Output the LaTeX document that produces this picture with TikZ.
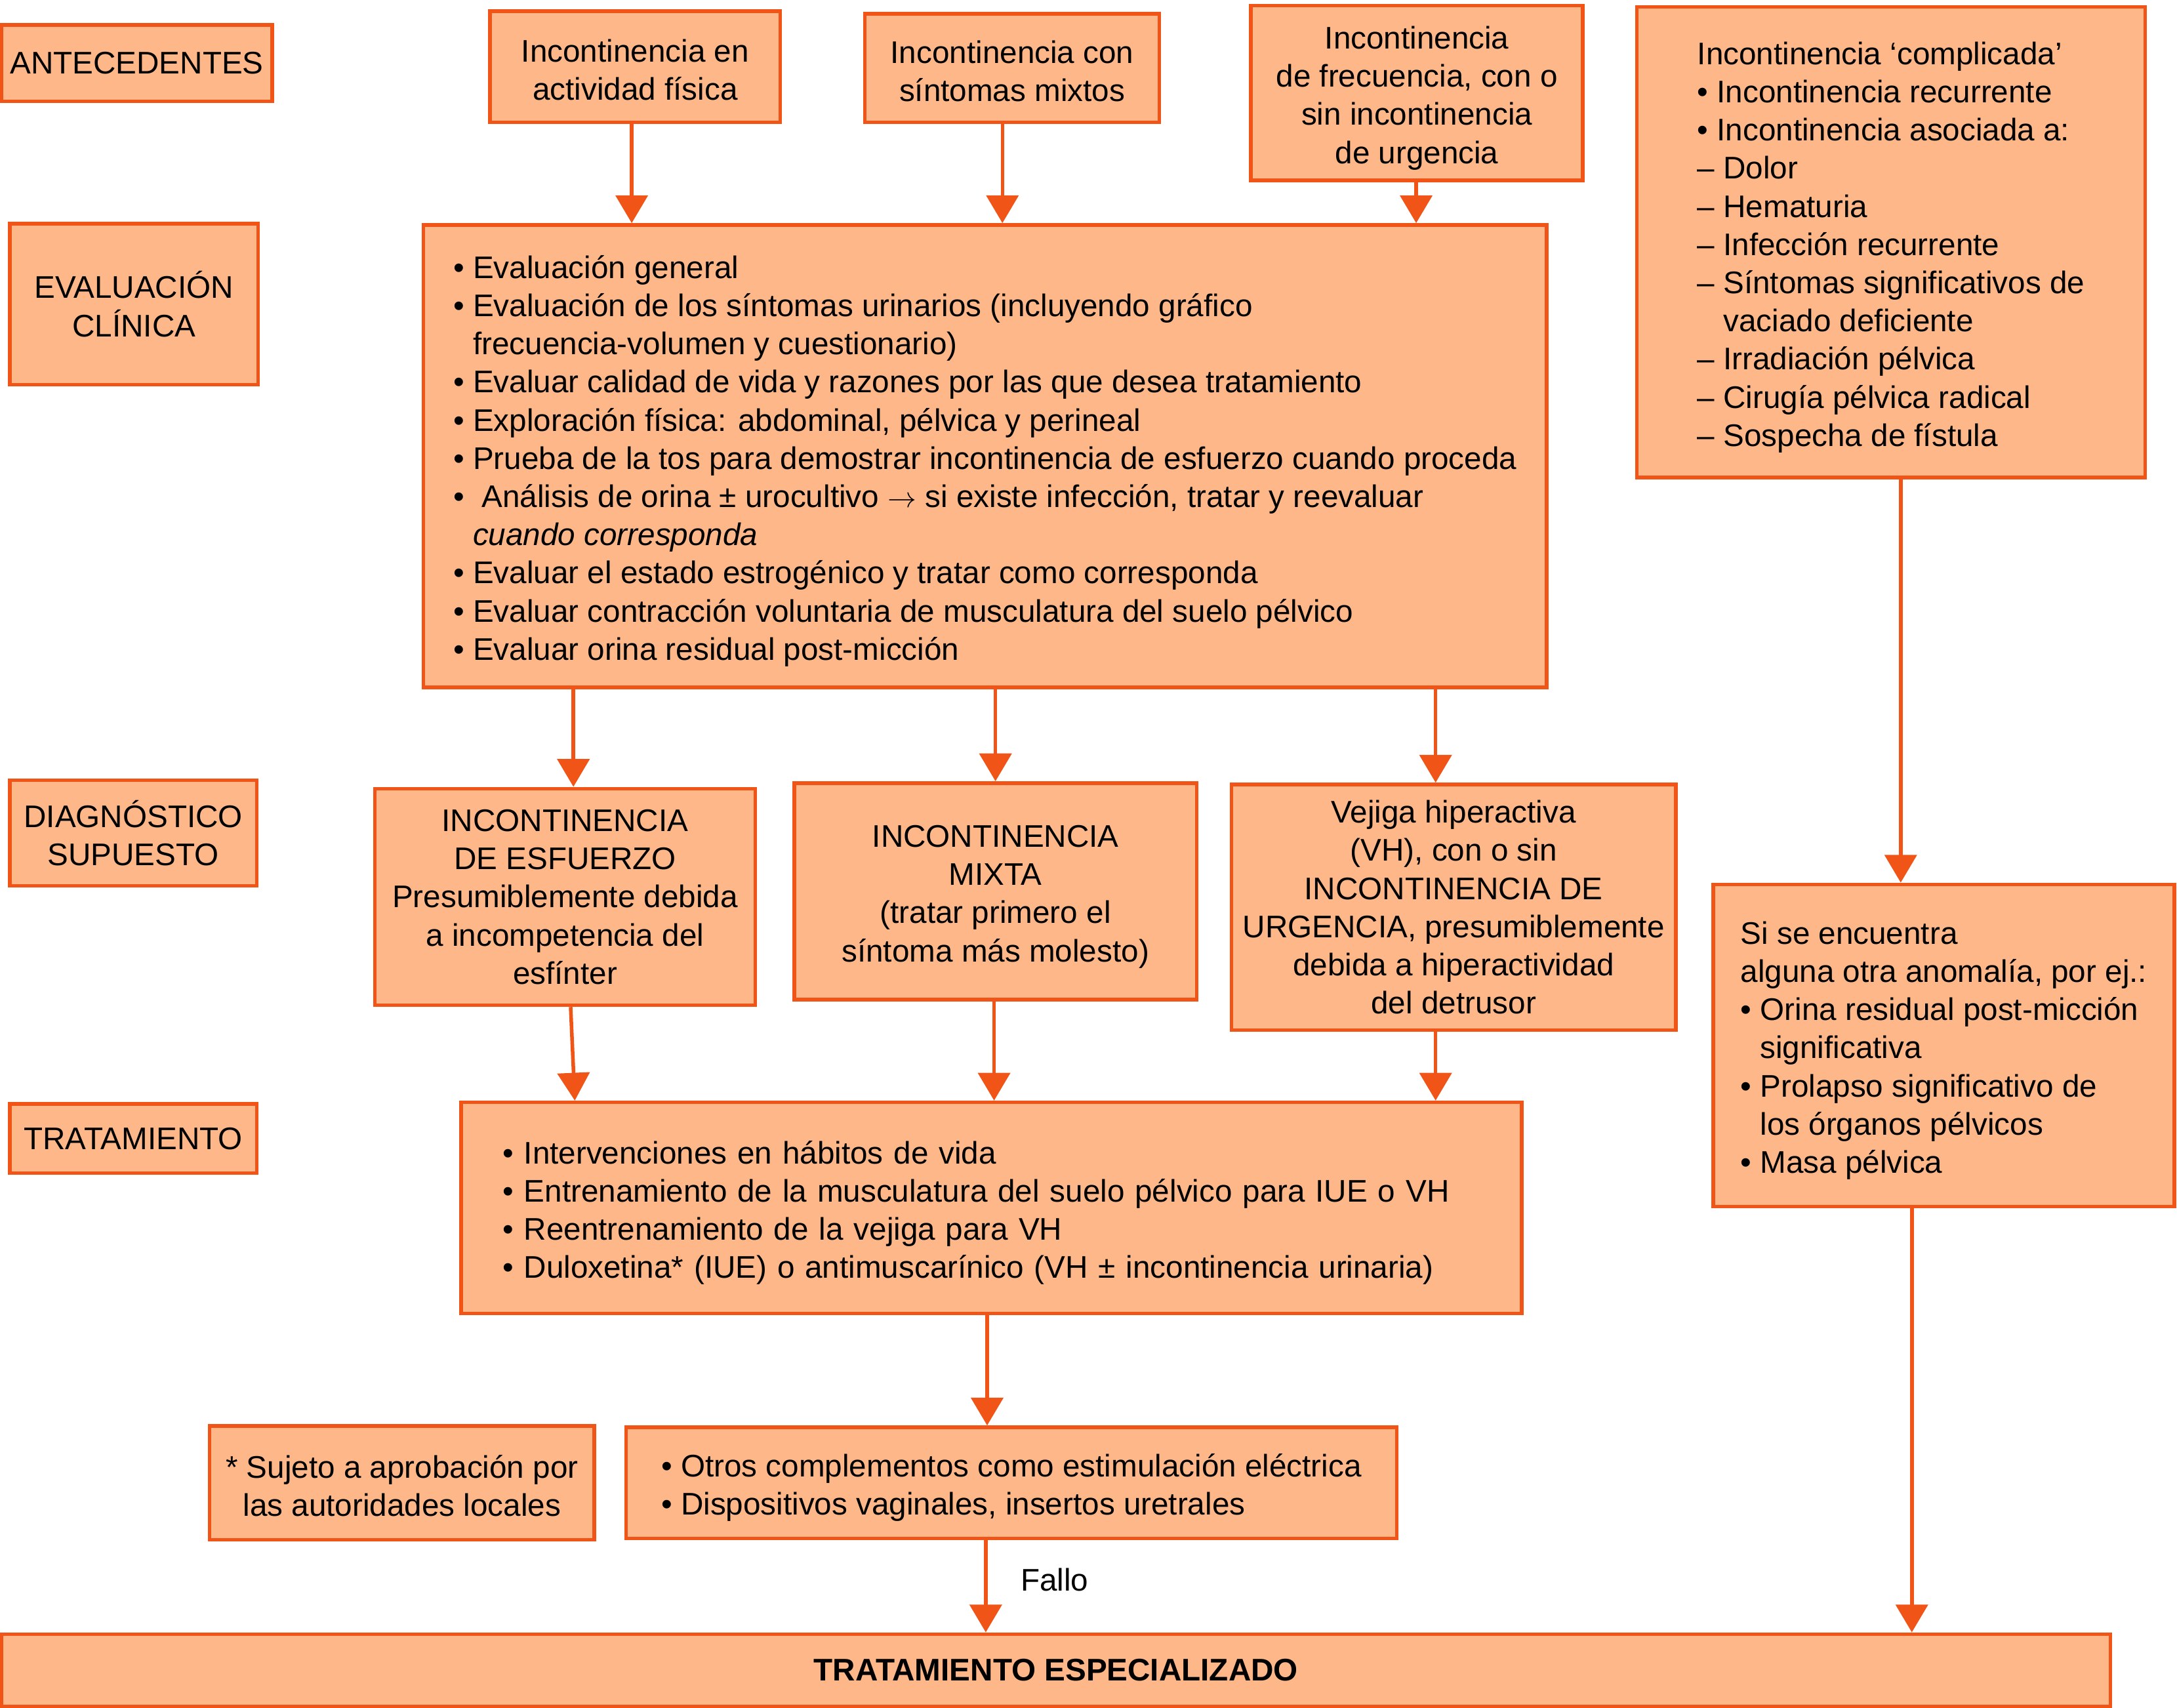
\documentclass[tikz,border=0pt]{standalone}
\usepackage{fontspec}
\setmainfont{Liberation Sans}
\usetikzlibrary{arrows.meta}
\definecolor{boxfill}{RGB}{253,183,136}
\definecolor{boxline}{RGB}{240,84,22}
\newcommand\tstrut{\rule{0pt}{23.5pt}}
\newcommand\sstrut{\rule{0pt}{21pt}}
\begin{document}
\begin{tikzpicture}[x=1pt,y=-1pt,
  box/.style={draw=boxline, fill=boxfill, line width=2.6pt, inner sep=0pt, font=\fontsize{22.5pt}{27.5pt}\selectfont},
  cbox/.style={box, align=center},
  lbox/.style={box, align=left},
  arr/.style={draw=boxline, line width=2.6pt, -{Triangle[length=20pt,width=23pt]}}]
\useasboundingbox (0,0) rectangle (1568,1230);

% stage labels
\node[cbox, minimum width=195pt, minimum height=55pt] (ant) at (98.5,45.5) {ANTECEDENTES};
\node[cbox, minimum width=179pt, minimum height=116pt] (evl) at (96.5,219) {EVALUACIÓN\\CLÍNICA};
\node[cbox, minimum width=178pt, minimum height=76pt] (dgl) at (96,600) {DIAGNÓSTICO\\SUPUESTO};
\node[cbox, minimum width=178pt, minimum height=50pt] (trl) at (96,820) {TRATAMIENTO};

% antecedents
\node[cbox, minimum width=209pt, minimum height=80pt] (act) at (457.5,48) {\sstrut Incontinencia en\\actividad física};
\node[cbox, minimum width=212pt, minimum height=78pt] (mix) at (729,49) {\sstrut Incontinencia con\\síntomas mixtos};
\node[cbox, minimum width=239pt, minimum height=126pt] (frec) at (1020.5,67) {\tstrut Incontinencia\\de frecuencia, con o\\sin incontinencia\\de urgencia};
\node[lbox, minimum width=366pt, minimum height=339pt] (comp) at (1362,174.5) {\tstrut Incontinencia ‘complicada’\\
• Incontinencia recurrente\\
• Incontinencia asociada a:\\
– Dolor\\
– Hematuria\\
– Infección recurrente\\
– Síntomas significativos de\\
\hphantom{– }vaciado deficiente\\
– Irradiación pélvica\\
– Cirugía pélvica radical\\
– Sospecha de fístula};

% clinical evaluation
\node[lbox, minimum width=809pt, minimum height=333pt] (eval) at (709.5,328.5) {\tstrut• Evaluación general\\
• Evaluación de los síntomas urinarios (incluyendo gráfico\\
\hphantom{• }frecuencia-volumen y cuestionario)\\
• Evaluar calidad de vida y razones por las que desea tratamiento\\
• Exploración física: abdominal, pélvica y perineal\\
• Prueba de la tos para demostrar incontinencia de esfuerzo cuando proceda\\
• \ Análisis de orina ± urocultivo $\rightarrow$ si existe infección, tratar y reevaluar\\
\hphantom{• }\textit{cuando corresponda}\\
• Evaluar el estado estrogénico y tratar como corresponda\\
• Evaluar contracción voluntaria de musculatura del suelo pélvico\\
• Evaluar orina residual post-micción};

% presumed diagnosis
\node[cbox, minimum width=274pt, minimum height=156pt] (esf) at (407,646) {INCONTINENCIA\\DE ESFUERZO\\Presumiblemente debida\\a incompetencia del\\esfínter};
\node[cbox, minimum width=290pt, minimum height=156pt] (mxt) at (717,642) {\tstrut INCONTINENCIA\\MIXTA\\(tratar primero el\\síntoma más molesto)};
\node[cbox, minimum width=320pt, minimum height=177pt] (vej) at (1047,653.5) {Vejiga hiperactiva\\(VH), con o sin\\INCONTINENCIA DE\\URGENCIA, presumiblemente\\debida a hiperactividad\\del detrusor};
\node[lbox, minimum width=332pt, minimum height=232pt] (sise) at (1400,753) {\tstrut Si se encuentra\\
alguna otra anomalía, por ej.:\\
• Orina residual post-micción\\
\hphantom{• }significativa\\
• Prolapso significativo de\\
\hphantom{• }los órganos pélvicos\\
• Masa pélvica};

% treatment
\node[lbox, text width=704pt, inner xsep=30pt, minimum height=152pt] (trat) at (714,870) {\tstrut• Intervenciones en hábitos de vida\\
• Entrenamiento de la musculatura del suelo pélvico para IUE o VH\\
• Reentrenamiento de la vejiga para VH\\
• Duloxetina* (IUE) o antimuscarínico (VH ± incontinencia urinaria)};

\node[cbox, minimum width=277pt, minimum height=82pt] (suj) at (289.5,1068) {\sstrut * Sujeto a aprobación por\\las autoridades locales};
\node[lbox, minimum width=555pt, minimum height=80pt] (otros) at (728.5,1068) {\tstrut• Otros complementos como estimulación eléctrica\\
• Dispositivos vaginales, insertos uretrales};

\node[cbox, minimum width=1519pt, minimum height=52pt, font=\fontsize{22.5pt}{27.5pt}\selectfont\bfseries] (esp) at (760.5,1203) {TRATAMIENTO ESPECIALIZADO};

\node[anchor=west, inner sep=0pt, font=\fontsize{22.5pt}{27.5pt}\selectfont] (fallo) at (735,1138) {Fallo};

% arrow x positions
\coordinate (xa) at (455,0);
\coordinate (xb) at (722,0);
\coordinate (xc) at (1020,0);
\coordinate (xd) at (413,0);
\coordinate (xe) at (717,0);
\coordinate (xf) at (1034,0);
\coordinate (xg) at (1369,0);
\coordinate (xh) at (414,0);
\coordinate (xi) at (716,0);
\coordinate (xj) at (711,0);
\coordinate (xk) at (710,0);
\coordinate (xl) at (1377,0);

\draw[arr] (act.south -| xa) -- (eval.north -| xa);
\draw[arr] (mix.south -| xb) -- (eval.north -| xb);
\draw[arr] (frec.south -| xc) -- (eval.north -| xc);
\draw[arr] (eval.south -| xd) -- (esf.north -| xd);
\draw[arr] (eval.south -| xe) -- (mxt.north -| xe);
\draw[arr] (eval.south -| xf) -- (vej.north -| xf);
\draw[arr] (comp.south -| xg) -- (sise.north -| xg);
\draw[arr] ([xshift=4pt]esf.south) -- (trat.north -| xh);
\draw[arr] (mxt.south -| xi) -- (trat.north -| xi);
\draw[arr] (vej.south -| xf) -- (trat.north -| xf);
\draw[arr] (trat.south -| xj) -- (otros.north -| xj);
\draw[arr] (otros.south -| xk) -- (esp.north -| xk);
\draw[arr] (sise.south -| xl) -- (esp.north -| xl);
\end{tikzpicture}
\end{document}
